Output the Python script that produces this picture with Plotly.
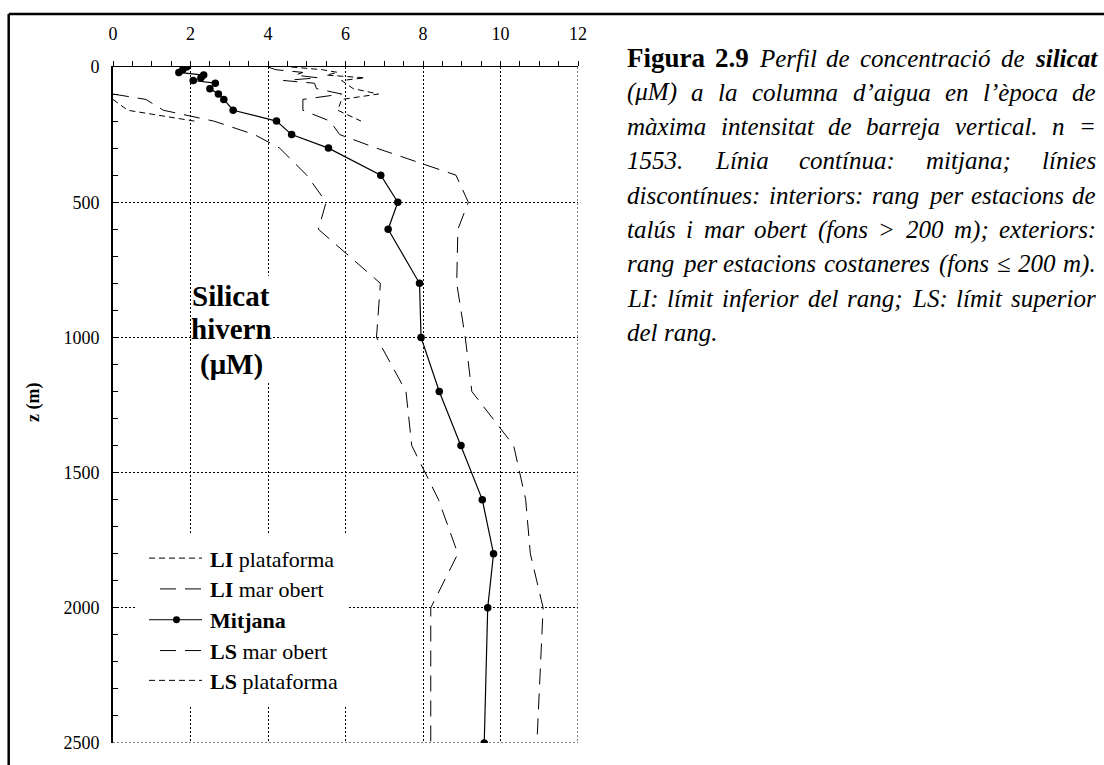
import plotly.graph_objects as go

# ---------------------------------------------------------------- data
# depth levels (m) of the mean profile and the upper limits
depth = [0, 10, 20, 30, 40, 50, 60, 80, 100, 120, 160, 200, 250, 300,
         400, 500, 600, 800, 1000, 1200, 1400, 1600, 1800, 2000, 2500]

# mean silicate (uM)
mitjana = [1.90, 1.80, 1.70, 2.34, 2.27, 2.07, 2.64, 2.50, 2.72, 2.86, 3.10,
           4.22, 4.61, 5.56, 6.91, 7.35, 7.10, 7.91, 7.95, 8.42, 8.98, 9.53,
           9.82, 9.67, 9.58]

# upper limit, slope and open-sea stations (bottom > 200 m)
ls_mar_obert = [4.0, 4.2, 4.9, 4.7, 5.3, 4.4, 5.2, 5.25, 5.9, 4.9, 4.9,
                5.6, 5.85, 6.8, 8.85, 9.17, 8.9, 8.87, 9.09, 9.26, 10.34,
                10.65, 10.77, 11.1, 10.94]

# lower limit, slope and open-sea stations (values above 100 m are < 0)
depth_li_mar = [100, 120, 160, 200, 250, 300, 400, 500, 600, 800, 1000,
                1200, 1400, 1600, 1800, 2000, 2500]
li_mar_obert = [0.0, 0.85, 1.3, 2.6, 3.65, 4.3, 5.0, 5.5, 5.3, 6.9, 6.8,
                7.56, 7.71, 8.4, 8.9, 8.2, 8.2]

# shelf stations (bottom <= 200 m)
depth_plat = [0, 10, 20, 30, 40, 50, 60, 80, 100, 120, 160, 200]
ls_plataforma = [4.6, 5.4, 5.8, 5.5, 6.5, 5.9, 6.0, 6.2, 6.85, 5.9, 5.8, 6.4]
depth_li_plat = [120, 160, 200]
li_plataforma = [0.0, 0.38, 2.1]

x_range = [0, 12]
z_range = [2500, 0]

legend_labels = ["<b>LI</b> plataforma", "<b>LI</b> mar obert", "<b>Mitjana</b>",
                 "<b>LS</b> mar obert", "<b>LS</b> plataforma"]
panel_label = ["Silicat", "hivern", "(μM)"]

# ---------------------------------------------------------------- styles
FONT = "Liberation Serif, Times New Roman, serif"
SHORT = "6px,4px"
LONG = "16px,9px"
DOT = "2px,2px"
W, H = 1104, 765
L, R, T, B = 113, 578, 67, 747


def fx(px):
    return (px - L) / (R - L)


def fy(py):
    return (B - py) / (B - T)


fig = go.Figure()

line_kw = dict(color="black", width=1)
fig.add_trace(go.Scatter(x=li_plataforma, y=depth_li_plat, mode="lines",
                         line=dict(line_kw, dash=SHORT)))
fig.add_trace(go.Scatter(x=ls_plataforma, y=depth_plat, mode="lines",
                         line=dict(line_kw, dash=SHORT)))
fig.add_trace(go.Scatter(x=li_mar_obert, y=depth_li_mar, mode="lines",
                         line=dict(line_kw, dash=LONG)))
fig.add_trace(go.Scatter(x=ls_mar_obert, y=depth, mode="lines",
                         line=dict(line_kw, dash=LONG)))
fig.add_trace(go.Scatter(x=mitjana, y=depth, mode="lines+markers",
                         line=dict(color="black", width=1.2),
                         marker=dict(color="black", size=7.5)))

shapes = []
annotations = []

# dotted right and bottom edges of the plotting area
shapes.append(dict(type="line", xref="x", yref="y", layer="below",
                   x0=x_range[1], x1=x_range[1], y0=z_range[1], y1=z_range[0],
                   line=dict(color="black", width=1, dash=DOT)))
shapes.append(dict(type="line", xref="x", yref="y", layer="below",
                   x0=x_range[0], x1=x_range[1], y0=z_range[0], y1=z_range[0],
                   line=dict(color="black", width=1, dash=DOT)))

# frame around the whole figure (top and left edges)
shapes.append(dict(type="line", xref="paper", yref="paper",
                   x0=fx(8.7), x1=fx(1110), y0=fy(13.8), y1=fy(13.8),
                   line=dict(color="black", width=2.5)))
shapes.append(dict(type="line", xref="paper", yref="paper",
                   x0=fx(8.7), x1=fx(8.7), y0=fy(13.8), y1=fy(780),
                   line=dict(color="black", width=2.5)))

# white panel behind the variable label
shapes.append(dict(type="rect", xref="paper", yref="paper", layer="above",
                   x0=fx(193), x1=fx(272), y0=fy(277), y1=fy(383),
                   fillcolor="white", line=dict(width=0)))
for txt, yy in zip(panel_label, [297, 331, 366]):
    annotations.append(dict(xref="paper", yref="paper", x=fx(231), y=fy(yy),
                            xanchor="center", yanchor="middle",
                            text="<b>" + txt + "</b>", showarrow=False,
                            font=dict(family=FONT, size=29, color="black")))

# axis title
annotations.append(dict(xref="paper", yref="paper", x=fx(33), y=fy(405),
                        xanchor="center", yanchor="middle",
                        text="<b>z (m)</b>", textangle=-90, showarrow=False,
                        font=dict(family=FONT, size=18, color="black")))

# hand-built legend
shapes.append(dict(type="rect", xref="paper", yref="paper", layer="above",
                   x0=fx(135), x1=fx(348), y0=fy(537), y1=fy(709),
                   fillcolor="white", line=dict(width=0)))
legend_y = [561, 592, 623, 654, 684]
legend_dash = [SHORT, LONG, "solid", LONG, SHORT]
for lab, yy, dsh in zip(legend_labels, legend_y, legend_dash):
    x0 = 149 if dsh != LONG else 160
    shapes.append(dict(type="line", xref="paper", yref="paper", layer="above",
                       x0=fx(x0), x1=fx(202), y0=fy(yy), y1=fy(yy),
                       line=dict(color="black", width=1, dash=dsh)))
    annotations.append(dict(xref="paper", yref="paper", x=fx(209), y=fy(yy + 1),
                            xanchor="left", yanchor="middle", text=lab,
                            showarrow=False, borderpad=0,
                            font=dict(family=FONT, size=22, color="black")))
shapes.append(dict(type="circle", xref="paper", yref="paper", layer="above",
                   x0=fx(176.5 - 3.5), x1=fx(176.5 + 3.5),
                   y0=fy(legend_y[2] + 3.5), y1=fy(legend_y[2] - 3.5),
                   fillcolor="black", line=dict(color="black", width=0)))

# ---------------------------------------------------------------- caption
# Times (Liberation Serif) advance widths, 1/1000 em
ITAL = {" ": 250, "(": 333, ")": 333, "’": 333, ".": 250, ",": 250, ":": 333,
        ";": 333, "=": 675, ">": 675, "≤": 549, "μ": 500,
        "a": 500, "b": 500, "c": 444, "d": 500, "e": 444, "f": 278, "g": 500,
        "h": 500, "i": 278, "j": 278, "k": 444, "l": 278, "m": 722, "n": 500,
        "o": 500, "p": 500, "q": 500, "r": 389, "s": 389, "t": 278, "u": 500,
        "v": 444, "w": 667, "x": 444, "y": 444, "z": 389,
        "à": 500, "è": 444, "é": 444, "í": 278, "ò": 500, "ó": 500, "ú": 500,
        "L": 556, "I": 333, "S": 500, "P": 611, "F": 611, "M": 833}
BOLD = {" ": 250, ".": 250, "F": 611, "i": 278, "g": 500, "u": 556, "r": 444,
        "a": 500}
BOLDIT = {"s": 389, "i": 278, "l": 278, "c": 444, "a": 500, "t": 278}
TABLES = {"i": ITAL, "b": BOLD, "bi": BOLDIT}
TAGS = {"i": ("<i>", "</i>"), "b": ("<b>", "</b>"), "bi": ("<b><i>", "</i></b>")}

CAP_SIZE = 25
FIG_SIZE = 27
cap_left, cap_right = 627, 1096
cap_top, cap_step = 58, 34.5

caption = [
    [("Figura", "b", FIG_SIZE), ("2.9", "b", FIG_SIZE), ("Perfil", "i", CAP_SIZE),
     ("de", "i", CAP_SIZE), ("concentració", "i", CAP_SIZE), ("de", "i", CAP_SIZE),
     ("silicat", "bi", CAP_SIZE)],
    "(μM) a la columna d’aigua en l’època de",
    "màxima intensitat de barreja vertical. n =",
    "1553. Línia contínua: mitjana; línies",
    "discontínues: interiors: rang per estacions de",
    "talús i mar obert (fons > 200 m); exteriors:",
    "rang per estacions costaneres (fons ≤ 200 m).",
    "LI: límit inferior del rang; LS: límit superior",
    "del rang.",
]


def word_width(word, style, size):
    table = TABLES[style]
    return sum(table.get(ch, 500) for ch in word) * size / 1000.0


for k, line in enumerate(caption):
    yy = cap_top + k * cap_step
    if isinstance(line, str):
        words = [(w, "i", CAP_SIZE) for w in line.split(" ")]
    else:
        words = line
    last = k == len(caption) - 1
    widths = [word_width(w, s, z) for w, s, z in words]
    if last:
        gap = ITAL[" "] * CAP_SIZE / 1000.0
    else:
        gap = (cap_right - cap_left - sum(widths)) / (len(words) - 1)
    xpos = cap_left
    for (w, s, z), wd in zip(words, widths):
        o, c = TAGS[s]
        annotations.append(dict(xref="paper", yref="paper", x=fx(xpos), y=fy(yy),
                                xanchor="left", yanchor="middle", text=o + w + c,
                                showarrow=False, borderpad=0, borderwidth=0,
                                font=dict(family=FONT, size=z, color="black")))
        xpos += wd + gap

tick_font = dict(family=FONT, size=18, color="black")
fig.update_layout(
    width=W, height=H,
    margin=dict(l=L, r=W - R, t=T, b=H - B, pad=0),
    paper_bgcolor="white", plot_bgcolor="white",
    showlegend=False, hovermode=False,
    shapes=shapes, annotations=annotations,
    xaxis=dict(side="top", range=x_range, tick0=0, dtick=2,
               showline=True, linecolor="black", linewidth=1,
               ticks="outside", ticklen=5, tickcolor="black", tickwidth=1,
               showgrid=True, gridcolor="black", gridwidth=1, griddash=DOT,
               zeroline=False, tickfont=tick_font, ticklabelstandoff=14,
               minor=dict(dtick=0.5, ticks="outside", ticklen=5,
                          tickcolor="black", showgrid=False),
               fixedrange=True),
    yaxis=dict(range=z_range, tick0=0, dtick=500,
               showline=True, linecolor="black", linewidth=2,
               ticks="inside", ticklen=5, tickcolor="black", tickwidth=1,
               showgrid=True, gridcolor="black", gridwidth=1, griddash=DOT,
               zeroline=False, tickfont=tick_font, ticklabelstandoff=8,
               minor=dict(dtick=100, ticks="inside", ticklen=5,
                          tickcolor="black", showgrid=False),
               fixedrange=True),
)

fig.write_html("out.html", config={"displayModeBar": False})
